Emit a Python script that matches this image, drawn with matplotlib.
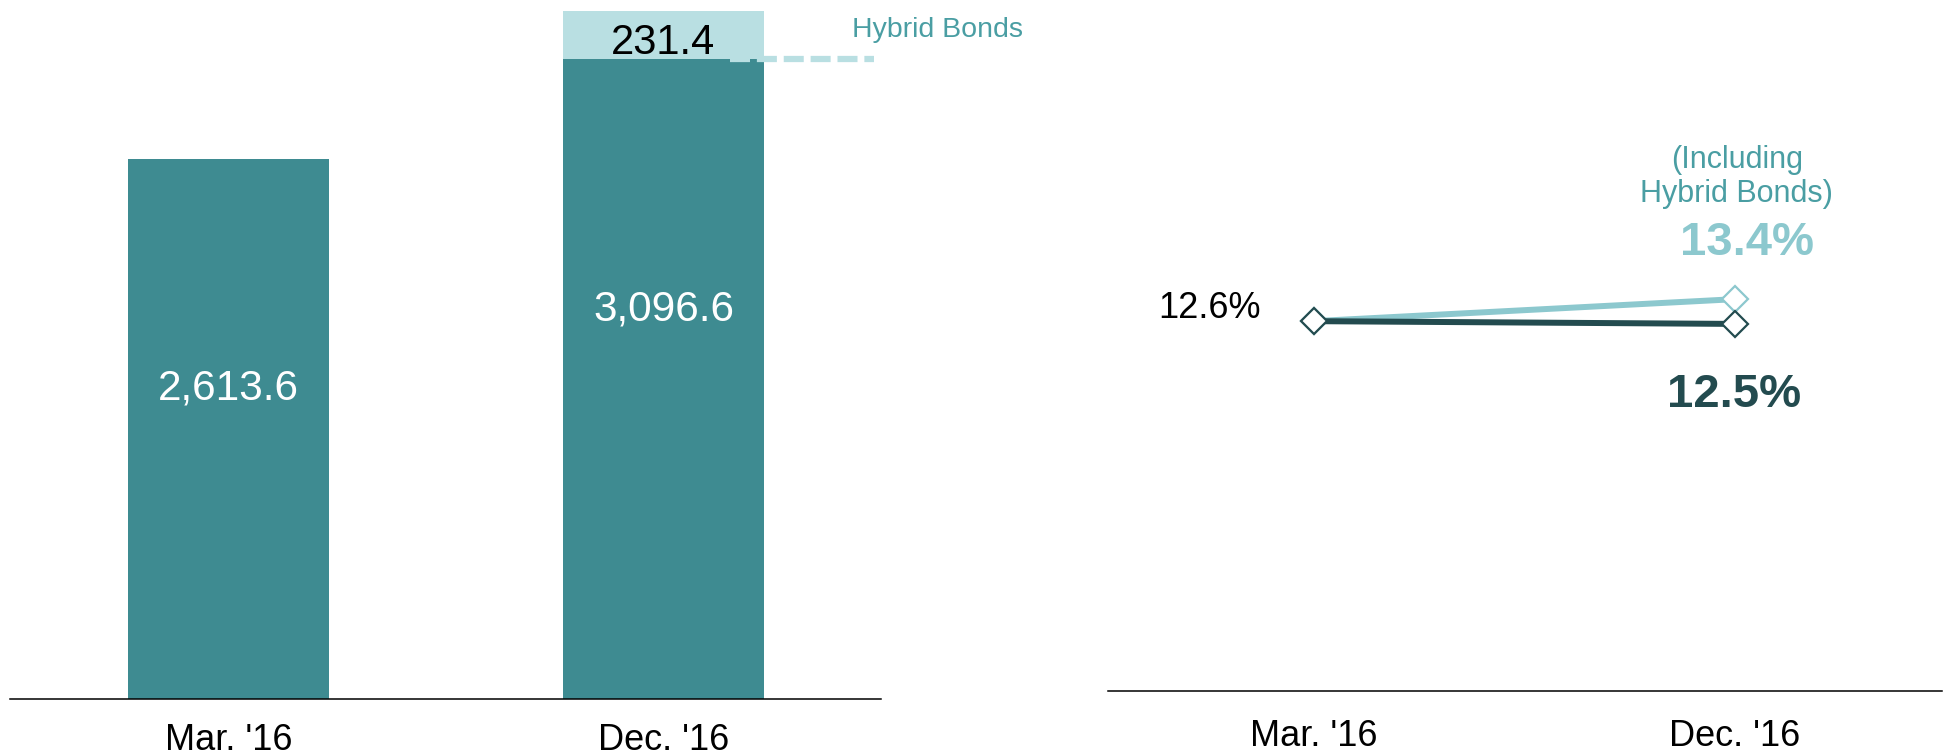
import matplotlib
matplotlib.use("Agg")
import matplotlib.pyplot as plt

plt.rcParams["font.family"] = ["Liberation Sans", "DejaVu Sans"]

# data
periods = ["Mar. '16", "Dec. '16"]
capital = [2613.6, 3096.6]
hybrid = [0, 231.4]
ratio = [12.6, 12.5]
ratio_hybrid = [12.6, 13.4]

DARK_BAR = "#3e8b91"
LIGHT_BAR = "#b9dfe2"
TEAL_TEXT = "#4a9ea3"
LIGHT_LINE = "#8cc8ce"
DARK_LINE = "#234b4f"

W, H = 1946, 756
fig = plt.figure(figsize=(W / 100, H / 100), dpi=100)


def px_axes(x0, x1, y_top, y_bot):
    return fig.add_axes([x0 / W, 1 - y_bot / H, (x1 - x0) / W, (y_bot - y_top) / H])


def style(ax, pad):
    for s in ["top", "left", "right"]:
        ax.spines[s].set_visible(False)
    ax.spines["bottom"].set_linewidth(1.1)
    ax.set_yticks([])
    ax.tick_params(axis="x", length=0, pad=pad, labelsize=26)


# left: stacked bars
ax1 = px_axes(10, 881, 0, 699)
x = range(len(periods))
ax1.bar(x, capital, width=0.462, color=DARK_BAR)
ax1.bar(x, hybrid, bottom=capital, width=0.462, color=LIGHT_BAR)
ax1.set_xlim(-0.502, 1.5)
ax1.set_ylim(0, 3381)
ax1.set_xticks(list(x))
ax1.set_xticklabels(periods)
style(ax1, 17)

for i, v in enumerate(capital):
    ax1.text(i, v * (0.575 if i == 0 else 0.608), f"{v:,.1f}", color="white",
             fontsize=30.5, ha="center", va="center")
ax1.text(1, capital[1] + hybrid[1] * 0.33, f"{hybrid[1]:.1f}", color="black",
         fontsize=30, ha="center", va="center")
ax1.plot([1.153, 1.485], [capital[1], capital[1]], color=LIGHT_BAR, lw=4.5,
         ls=(0, (3.2, 1.1)), clip_on=False, solid_capstyle="butt")
ax1.text(1.631, 3236, "Hybrid Bonds", color=TEAL_TEXT, fontsize=20.5,
         ha="center", va="center", clip_on=False)

# right: capital ratio lines
ax2 = px_axes(1108, 1942, 0, 691)
ax2.plot(x, ratio_hybrid, color=LIGHT_LINE, lw=4.3, marker="D", ms=13,
         mfc="white", mec=LIGHT_LINE, mew=1.6, zorder=3)
ax2.plot(x, ratio, color=DARK_LINE, lw=4.3, marker="D", ms=13,
         mfc="white", mec=DARK_LINE, mew=1.6, zorder=4)
ax2.set_xlim(-0.489, 1.492)
ax2.set_ylim(-0.85, 24.28)
ax2.set_xticks(list(x))
ax2.set_xticklabels(periods)
style(ax2, 20)

ax2.annotate(f"{ratio[0]}%", (0, ratio[0]), xytext=(-104, 13), textcoords="offset pixels",
             fontsize=26, ha="center", va="center")
ax2.annotate(f"{ratio_hybrid[1]}%", (1, ratio_hybrid[1]), xytext=(12, 56),
             textcoords="offset pixels", fontsize=34, fontweight="bold",
             color=LIGHT_LINE, ha="center", va="center")
ax2.annotate(f"{ratio[1]}%", (1, ratio[1]), xytext=(-1, -71),
             textcoords="offset pixels", fontsize=34, fontweight="bold",
             color=DARK_LINE, ha="center", va="center")
ax2.annotate("(Including\nHybrid Bonds)", (1, ratio_hybrid[1]), xytext=(2, 122),
             textcoords="offset pixels", fontsize=22, color=TEAL_TEXT,
             ha="center", va="center", linespacing=1.15)

fig.savefig("out.png", dpi=100)
